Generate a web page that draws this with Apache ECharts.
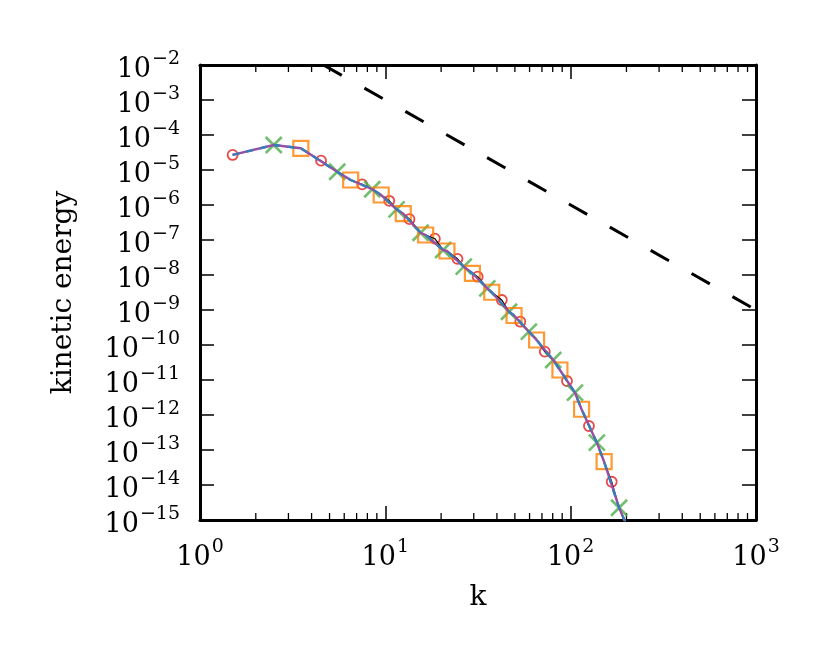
<!DOCTYPE html>
<html>
<head>
<meta charset="UTF-8">
<title>kinetic energy spectrum</title>
<script src="https://cdn.jsdelivr.net/npm/echarts@6/dist/echarts.min.js"></script>
<style>
  html, body { margin: 0; padding: 0; background: #fff; }
  #main { width: 830px; height: 664px; }
</style>
</head>
<body>
<div id="main"></div>
<script>
// values
var kCircle = [1.5, 4.5, 7.5, 10.5, 13.5, 18.5, 24.5, 31.5, 42.5, 53.5, 72.5, 95.5, 125.5, 166.5];
var eCircle = [2.69e-5, 1.85e-5, 3.90e-6, 1.32e-6, 3.93e-7, 1.09e-7, 2.90e-8, 8.93e-9, 1.93e-9, 4.63e-10, 6.44e-11, 9.35e-12, 4.85e-13, 1.24e-14];

var kCross = [2.5, 5.5, 8.5, 11.5, 15.5, 20.5, 26.5, 35.5, 46.5, 59.5, 80.5, 105.5, 138.5, 182.5];
var eCross = [5.18e-5, 8.93e-6, 2.82e-6, 7.53e-7, 1.61e-7, 5.18e-8, 1.73e-8, 4.17e-9, 8.93e-10, 2.40e-10, 3.72e-11, 4.34e-12, 1.62e-13, 2.24e-15];

var kSquare = [3.5, 6.5, 9.5, 12.5, 16.5, 21.5, 29.5, 37.5, 49.5, 65.5, 87.5, 114.5, 151.5, 200.5];
var eSquare = [4.17e-5, 5.18e-6, 1.93e-6, 5.64e-7, 1.39e-7, 4.85e-8, 1.12e-8, 3.21e-9, 6.97e-10, 1.39e-10, 1.93e-11, 1.46e-12, 4.63e-14, 7e-16];

// dashed reference line (enters at the top edge, leaves at the right edge)
var refK = [4.64, 1000];
var refE = [1e-2, 1e-9];

var xMin = 1, xMax = 1000;
var yMin = 1e-15, yMax = 1e-2;
var minorTicks = [2, 3, 4, 5, 6, 7, 8, 9, 20, 30, 40, 50, 60, 70, 80, 90, 200, 300, 400, 500, 600, 700, 800, 900];

var FONT = 'DejaVu Serif';

function pairs(ks, es) {
  return ks.map(function (k, i) { return [k, es[i]]; });
}
function byK(a, b) { return a[0] - b[0]; }

var allPts = pairs(kCircle, eCircle).concat(pairs(kCross, eCross), pairs(kSquare, eSquare)).sort(byK);
var mainPts = [[kCircle[0], eCircle[0]]].concat(pairs(kCross, eCross), pairs(kSquare, eSquare)).sort(byK);

// 10^n with a raised exponent; small token heights so neighbouring labels don't count as overlapping
function sup(v) {
  var e = Math.round(Math.log10(v));
  return '{b|10}{s|' + String(e).replace('-', '\u2212') + '}';
}
var rich = {
  b: { fontFamily: FONT, fontSize: 27, color: '#000', lineHeight: 20, height: 14, padding: [9, 0, 0, 0] },
  s: { fontFamily: FONT, fontSize: 19, color: '#000', lineHeight: 14, height: 10, padding: [0, 0, 12, 1] }
};

var spine = { onZero: false, lineStyle: { color: '#000', width: 3 } };
var majorTick = { inside: true, length: 14, lineStyle: { color: '#000', width: 1.5 } };

function logAxis(extra) {
  var a = {
    type: 'log', logBase: 10, interval: 1,
    axisLine: spine, axisTick: majorTick,
    splitLine: { show: false }, minorTick: { show: false }
  };
  for (var key in extra) a[key] = extra[key];
  return a;
}

function tickLabels(margin) {
  return {
    formatter: sup, rich: rich, margin: margin,
    showMinLabel: true, showMaxLabel: true, hideOverlap: false
  };
}

var myChart = echarts.init(document.getElementById('main'));

var option = {
  animation: false,
  backgroundColor: '#fff',
  grid: { left: 200, right: 74, top: 65, bottom: 144 },
  xAxis: [
    logAxis({
      min: xMin, max: xMax, position: 'bottom',
      name: 'k', nameLocation: 'middle', nameGap: 64,
      nameTextStyle: { fontFamily: FONT, fontSize: 28, color: '#000' },
      axisLabel: tickLabels(23)
    }),
    logAxis({ min: xMin, max: xMax, position: 'top', axisLabel: { show: false } })
  ],
  yAxis: [
    logAxis({
      min: yMin, max: yMax, position: 'left',
      name: 'kinetic energy', nameLocation: 'middle', nameGap: 122, nameRotate: 90,
      nameTextStyle: { fontFamily: FONT, fontSize: 28, color: '#000' },
      axisLabel: tickLabels(20)
    }),
    logAxis({ min: yMin, max: yMax, position: 'right', axisLabel: { show: false } })
  ],
  series: [
    {
      // minor ticks of the log x axis, bottom and top
      type: 'custom',
      silent: true,
      data: minorTicks.map(function (k) { return [k, yMin]; }),
      renderItem: function (params, api) {
        var x = api.coord([api.value(0), yMin])[0];
        var cs = params.coordSys;
        var yb = cs.y + cs.height, yt = cs.y;
        var st = { stroke: '#000', lineWidth: 1.3 };
        return {
          type: 'group',
          children: [
            { type: 'line', shape: { x1: x, y1: yb, x2: x, y2: yb - 7 }, style: st },
            { type: 'line', shape: { x1: x, y1: yt, x2: x, y2: yt + 7 }, style: st }
          ]
        };
      }
    },
    {
      type: 'line', data: pairs(refK, refE), symbol: 'none', clip: true,
      lineStyle: { color: '#000', width: 3, type: [21, 26] }
    },
    {
      type: 'line', data: allPts, symbol: 'none', clip: true,
      lineStyle: { color: '#000', width: 1.2 }
    },
    {
      type: 'line', data: mainPts, symbol: 'none', clip: true,
      lineStyle: { color: '#984ea3', width: 2.4 }
    },
    {
      type: 'line', data: mainPts, symbol: 'none', clip: true,
      lineStyle: { color: '#377eb8', width: 2.4, type: [7, 7] }
    },
    {
      type: 'scatter', data: pairs(kCircle, eCircle), symbol: 'circle', symbolSize: 10,
      itemStyle: { color: 'transparent', borderColor: '#e41a1c', borderWidth: 1.8 }
    },
    {
      type: 'scatter', data: pairs(kCross, eCross), symbol: 'path://M0,0L10,10M10,0L0,10', symbolSize: 16,
      itemStyle: { color: 'transparent', borderColor: '#4daf4a', borderWidth: 2.6 }
    },
    {
      type: 'scatter', data: pairs(kSquare, eSquare), symbol: 'rect', symbolSize: 15,
      itemStyle: { color: 'transparent', borderColor: '#ff7f00', borderWidth: 2.2 }
    }
  ]
};

myChart.setOption(option);
</script>
</body>
</html>
